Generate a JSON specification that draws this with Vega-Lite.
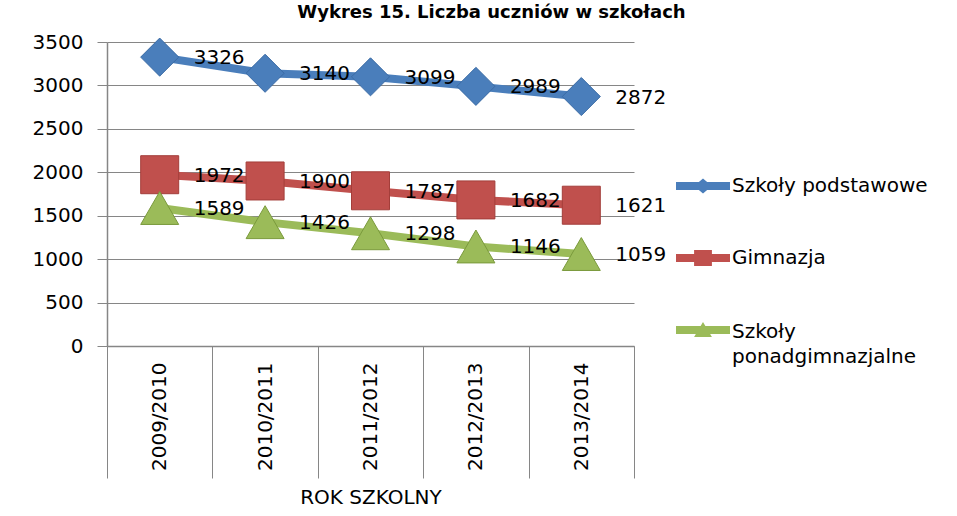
{
  "$schema": "https://vega.github.io/schema/vega-lite/v6.json",
  "width": 527,
  "height": 304,
  "autosize": {"type": "none"},
  "padding": {"left": 107, "top": 42, "right": 323, "bottom": 170},
  "background": "white",
  "title": {"text": "Wykres 15. Liczba uczniów w szkołach", "font": "DejaVu Sans", "fontSize": 18, "fontWeight": "bold", "color": "black", "frame": "group", "anchor": "middle", "baseline": "alphabetic", "offset": 1, "dx": 121, "dy": 5},
  "config": {"view": {"stroke": null}, "font": "DejaVu Sans"},
  "data": {"values": [
    {"rok": "2009/2010", "typ": "Szkoły podstawowe", "liczba": 3326},
    {"rok": "2010/2011", "typ": "Szkoły podstawowe", "liczba": 3140},
    {"rok": "2011/2012", "typ": "Szkoły podstawowe", "liczba": 3099},
    {"rok": "2012/2013", "typ": "Szkoły podstawowe", "liczba": 2989},
    {"rok": "2013/2014", "typ": "Szkoły podstawowe", "liczba": 2872},
    {"rok": "2009/2010", "typ": "Gimnazja", "liczba": 1972},
    {"rok": "2010/2011", "typ": "Gimnazja", "liczba": 1900},
    {"rok": "2011/2012", "typ": "Gimnazja", "liczba": 1787},
    {"rok": "2012/2013", "typ": "Gimnazja", "liczba": 1682},
    {"rok": "2013/2014", "typ": "Gimnazja", "liczba": 1621},
    {"rok": "2009/2010", "typ": "Szkoły ponadgimnazjalne", "liczba": 1589},
    {"rok": "2010/2011", "typ": "Szkoły ponadgimnazjalne", "liczba": 1426},
    {"rok": "2011/2012", "typ": "Szkoły ponadgimnazjalne", "liczba": 1298},
    {"rok": "2012/2013", "typ": "Szkoły ponadgimnazjalne", "liczba": 1146},
    {"rok": "2013/2014", "typ": "Szkoły ponadgimnazjalne", "liczba": 1059}
  ]},
  "encoding": {
    "x": {
      "field": "rok", "type": "ordinal", "sort": null,
      "scale": {"type": "band", "paddingInner": 0, "paddingOuter": 0},
      "axis": {
        "title": "ROK SZKOLNY", "labelAngle": -90, "tickBand": "extent", "tickSize": 132, "labelPadding": -116,
        "tickColor": "#868686", "tickWidth": 1, "domainColor": "#868686", "domainWidth": 1.5,
        "labelFont": "DejaVu Sans", "labelFontSize": 20, "labelColor": "black",
        "titleFont": "DejaVu Sans", "titleFontSize": 20, "titleFontWeight": "normal", "titleColor": "black", "titlePadding": 9,
        "grid": false
      }
    },
    "y": {
      "field": "liczba", "type": "quantitative",
      "scale": {"domain": [0, 3500], "nice": false},
      "axis": {
        "values": [0, 500, 1000, 1500, 2000, 2500, 3000, 3500], "format": "d", "title": null, "grid": true,
        "gridColor": "#868686", "gridWidth": 1, "domainColor": "#868686", "domainWidth": 1.5,
        "tickColor": "#868686", "tickSize": 10, "labelFont": "DejaVu Sans", "labelFontSize": 20,
        "labelColor": "black", "labelPadding": 14
      }
    },
    "color": {
      "field": "typ", "type": "nominal",
      "sort": ["Szkoły podstawowe", "Gimnazja", "Szkoły ponadgimnazjalne"],
      "scale": {"domain": ["Szkoły podstawowe", "Gimnazja", "Szkoły ponadgimnazjalne"], "range": ["#4A7EBB", "#C0504D", "#9BBB59"]},
      "legend": {
        "title": null, "orient": "none", "legendX": 569, "legendY": 117,
        "labelFont": "DejaVu Sans", "labelFontSize": 20, "labelColor": "black", "labelOffset": 2,
        "rowPadding": 35, "symbolSize": 2916, "labelLimit": 400,
        "labelExpr": "datum.label === 'Szkoły ponadgimnazjalne' ? ['Szkoły', 'ponadgimnazjalne'] : datum.label",
        "encode": {
          "symbols": {"update": {
            "shape": {"signal": "datum.value === 'Szkoły podstawowe' ? 'M-1,-0.15L1,-0.15L1,0.15L-1,0.15Z M-0.33,0L0,-0.28L0.33,0L0,0.28Z' : datum.value === 'Gimnazja' ? 'M-1,-0.15L1,-0.15L1,0.15L-1,0.15Z M-0.33,-0.3L0.33,-0.3L0.33,0.3L-0.33,0.3Z' : 'M-1,-0.15L1,-0.15L1,0.15L-1,0.15Z M-0.33,0.26L0,-0.3L0.33,0.26Z'"},
            "size": {"value": 2916},
            "fill": {"signal": "scale('color', datum.value)"},
            "stroke": {"value": "transparent"},
            "strokeWidth": {"value": 0},
            "opacity": {"value": 1}
          }},
          "labels": {"update": {
            "dy": {"signal": "datum.value === 'Szkoły ponadgimnazjalne' ? 2 : 0"},
            "lineHeight": {"value": 25}
          }}
        }
      }
    }
  },
  "layer": [
    {"mark": {"type": "line", "strokeWidth": 8, "strokeCap": "round", "strokeJoin": "round"}},
    {
      "transform": [{"filter": "datum.typ === 'Szkoły podstawowe'"}],
      "mark": {"type": "point", "shape": "diamond", "filled": true, "opacity": 1, "size": 1450, "stroke": "#3A6BA5", "strokeWidth": 1}
    },
    {
      "transform": [{"filter": "datum.typ === 'Gimnazja'"}],
      "mark": {"type": "point", "shape": "square", "filled": true, "opacity": 1, "size": 1444, "stroke": "#A33E3A", "strokeWidth": 1}
    },
    {
      "transform": [{"filter": "datum.typ === 'Szkoły ponadgimnazjalne'"}],
      "mark": {"type": "point", "shape": "triangle-up", "filled": true, "opacity": 1, "size": 1444, "stroke": "#7A9A3C", "strokeWidth": 1}
    },
    {
      "mark": {"type": "text", "align": "left", "baseline": "middle", "dx": 34, "dy": 1, "fontSize": 20, "font": "DejaVu Sans"},
      "encoding": {
        "text": {"field": "liczba", "type": "quantitative"},
        "color": {"value": "black"}
      }
    }
  ]
}
